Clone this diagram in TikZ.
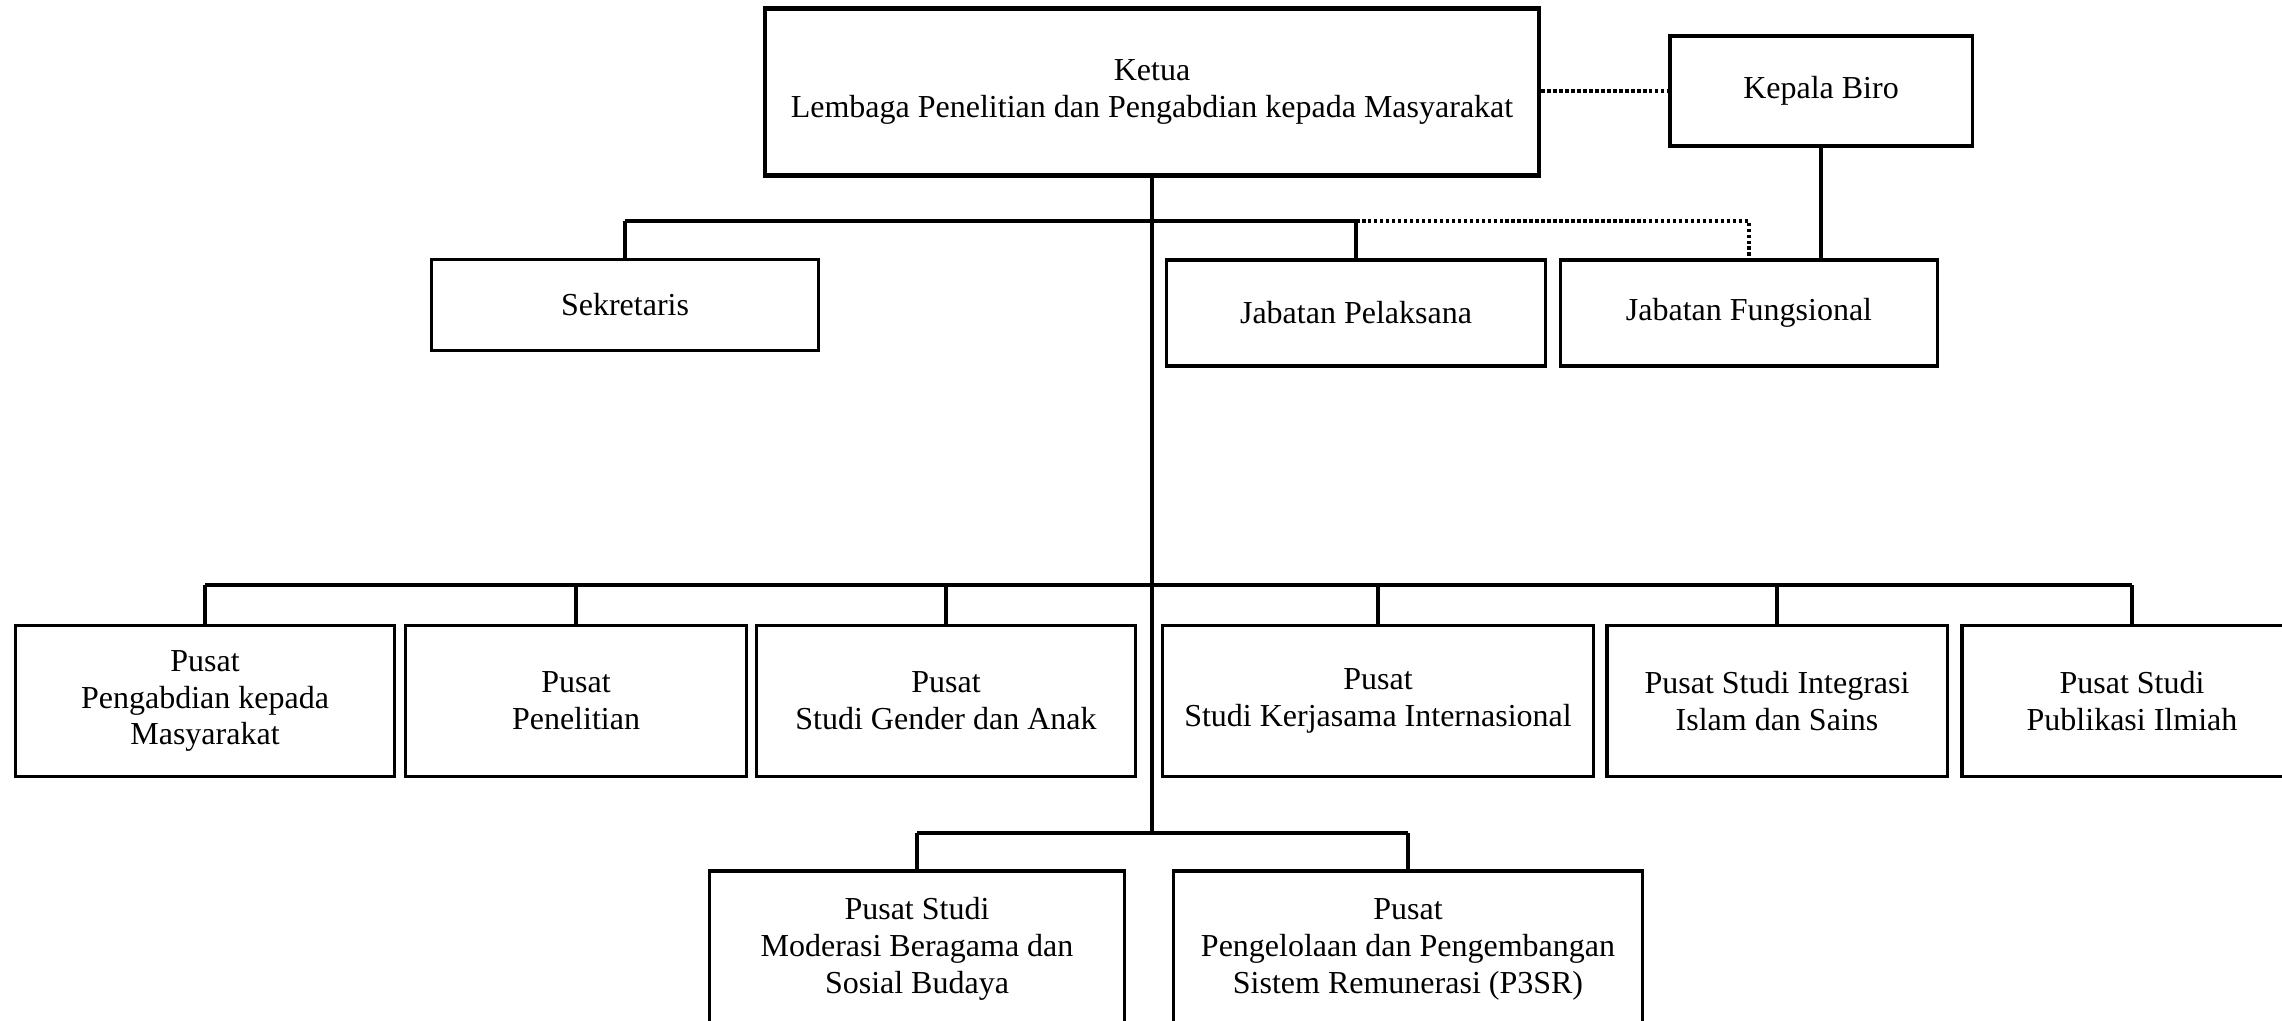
\documentclass[tikz,border=0pt]{standalone}
\usepackage{fontspec}
\setmainfont{Liberation Serif}
\usetikzlibrary{positioning,calc}
\tikzset{unit/.style={draw, line width=0.9pt, align=center, inner sep=0pt},
	kepala/.style={unit, line width=1.2pt},
	pusat/.style={unit, minimum height=1.51cm},
	garis/.style={line width=0.9pt},
	palang/.style={line width=1.1pt},
	putus/.style={line width=1pt, dash pattern=on 1pt off 0.7pt}}

\begin{document}
\begin{tikzpicture}[x=0.01cm, y=-0.01cm, font=\fontsize{9.1}{10.5}\selectfont]
	\useasboundingbox (0,0) rectangle (2282,1020);
	\clip (0,0) rectangle (2282,1020);
	% pimpinan
	\node[kepala, minimum width=7.74cm, minimum height=1.67cm] (ketua) at (1152,92)
		{Ketua\\Lembaga Penelitian dan Pengabdian kepada Masyarakat};
	\node[unit, minimum width=3.02cm, minimum height=1.10cm] (biro) at (1821,91) {Kepala Biro};
	\node[unit, minimum width=3.86cm, minimum height=0.91cm] (sekr) at (625,305) {Sekretaris};
	\node[unit, minimum width=3.78cm, minimum height=1.06cm] (pelaksana) at (1356,313) {Jabatan Pelaksana};
	\node[unit, minimum width=3.76cm, minimum height=1.06cm] (fungsional) at (1749,313) {Jabatan Fungsional};
	% pusat-pusat
	\node[pusat, minimum width=3.78cm] (ppm) at (205,701) {Pusat\\Pengabdian kepada\\Masyarakat};
	\node[pusat, minimum width=3.40cm] (penelitian) at (576,701) {Pusat\\Penelitian};
	\node[pusat, minimum width=3.78cm] (gender) at (946,701) {Pusat\\Studi Gender dan Anak};
	\node[pusat, minimum width=4.31cm] (kerjasama) at (1378,701) {Pusat\\Studi Kerjasama Internasional};
	\node[pusat, minimum width=3.40cm] (integrasi) at (1777,701) {Pusat Studi Integrasi\\Islam dan Sains};
	\node[pusat, minimum width=3.40cm] (publikasi) at (2132,701) {Pusat Studi\\Publikasi Ilmiah};
	\node[pusat, minimum width=4.15cm, minimum height=1.56cm] (moderasi) at (917,949)
		{Pusat Studi\\Moderasi Beragama dan\\Sosial Budaya};
	\node[pusat, minimum width=4.68cm, minimum height=1.56cm] (remunerasi) at (1408,949)
		{Pusat\\Pengelolaan dan Pengembangan\\Sistem Remunerasi (P3SR)};
	% garis
	\coordinate (atas) at (0,221);
	\coordinate (tengah) at (0,585);
	\coordinate (bawah) at (0,833);
	\draw[garis] (ketua.south) -- (ketua.south |- bawah);
	\draw[palang] (sekr.north |- atas) -- (pelaksana.north |- atas);
	\draw[garis] (sekr.north |- atas) -- (sekr.north);
	\draw[garis] (pelaksana.north |- atas) -- (pelaksana.north);
	\draw[putus] (pelaksana.north |- atas) -- (fungsional.north |- atas) -- (fungsional.north);
	\draw[putus] (ketua.east |- biro.west) -- (biro.west);
	\draw[garis] (biro.south) -- (biro.south |- fungsional.north);
	\draw[palang] (ppm.north |- tengah) -- (publikasi.north |- tengah);
	\foreach \n in {ppm,penelitian,gender,kerjasama,integrasi,publikasi}
		\draw[garis] (\n.north |- tengah) -- (\n.north);
	\draw[palang] (moderasi.north |- bawah) -- (remunerasi.north |- bawah);
	\foreach \n in {moderasi,remunerasi}
		\draw[garis] (\n.north |- bawah) -- (\n.north);
\end{tikzpicture}
\end{document}
